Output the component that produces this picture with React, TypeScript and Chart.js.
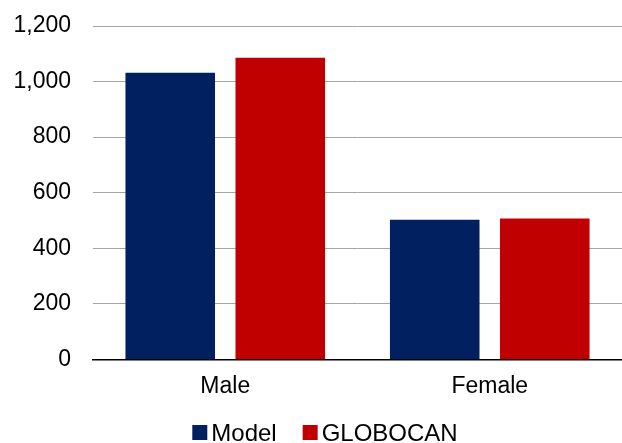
import React, { useEffect, useRef } from "react";
import { Chart, registerables } from "chart.js";

Chart.register(...registerables);

const categories = ["Male", "Female"];
const modelValues = [1032, 503];
const globocanValues = [1086, 507];
const yTicks = [0, 200, 400, 600, 800, 1000, 1200];

const NAVY = "#002060";
const RED = "#C00000";
const FONT = "Liberation Sans, Arial, sans-serif";

// Legend drawn under the axis: square swatch, tight gap, then the series name.
const bottomLegend = {
  id: "bottomLegend",
  afterDraw(chart: any) {
    const ctx = chart.ctx;
    const items = chart.data.datasets.map((d: any) => ({ label: d.label, color: d.backgroundColor }));
    const box = 15;
    const boxGap = 4;
    const itemGap = 26;
    ctx.save();
    ctx.font = `24px ${FONT}`;
    ctx.textBaseline = "alphabetic";
    ctx.textAlign = "left";
    const widths = items.map((it: any) => ctx.measureText(it.label).width);
    const total =
      widths.reduce((a: number, w: number) => a + box + boxGap + w, 0) + itemGap * (items.length - 1);
    let x = chart.width / 2 + 14 - total / 2;
    const baseline = chart.height - 2;
    items.forEach((it: any, i: number) => {
      ctx.fillStyle = it.color;
      ctx.fillRect(x, baseline - 16, box, box);
      x += box + boxGap;
      ctx.fillStyle = "#000";
      ctx.fillText(it.label, x, baseline);
      x += widths[i] + itemGap;
    });
    ctx.restore();
  },
};

export default function App() {
  const canvasRef = useRef<HTMLCanvasElement | null>(null);

  useEffect(() => {
    document.body.style.margin = "0";
    const ctx = canvasRef.current;
    if (!ctx) return;
    const chart = new Chart(ctx, {
      type: "bar",
      data: {
        labels: categories,
        datasets: [
          {
            label: "Model",
            data: modelValues,
            backgroundColor: NAVY,
            categoryPercentage: 0.832,
            barPercentage: 0.814,
          },
          {
            label: "GLOBOCAN",
            data: globocanValues,
            backgroundColor: RED,
            categoryPercentage: 0.832,
            barPercentage: 0.814,
          },
        ],
      },
      options: {
        responsive: false,
        animation: false,
        layout: { padding: { top: 26, right: 0, left: 0, bottom: 30 } },
        plugins: {
          tooltip: { enabled: false },
          legend: { display: false },
        },
        scales: {
          x: {
            grid: { display: false, drawTicks: false },
            border: { display: true, color: "#000", width: 1.5 },
            ticks: {
              color: "#000",
              padding: 13,
              font: { family: FONT, size: 23 },
            },
          },
          y: {
            min: 0,
            max: 1200,
            afterBuildTicks: (axis: any) => {
              axis.ticks = yTicks.map((v) => ({ value: v }));
            },
            afterFit: (axis: any) => {
              axis.width = 93;
              axis.paddingTop = 0;
              axis.paddingBottom = 0;
            },
            grid: { color: "#A6A6A6", lineWidth: 1, drawTicks: false },
            border: { display: false },
            ticks: {
              color: "#000",
              padding: 22,
              font: { family: FONT, size: 23 },
              callback: (v: any) => Number(v).toLocaleString("en-US"),
            },
          },
        },
      },
      plugins: [bottomLegend],
    });
    return () => chart.destroy();
  }, []);

  return (
    <div style={{ position: "absolute", left: 0, top: 0, width: 622, height: 443, background: "#fff" }}>
      <canvas ref={canvasRef} width={622} height={443} />
    </div>
  );
}
